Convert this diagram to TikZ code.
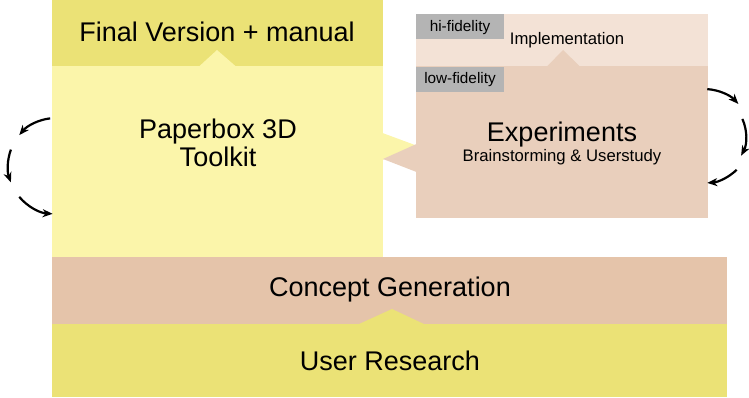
\documentclass[tikz,border=0pt]{standalone}
\usepackage{fontspec}
\setmainfont{Liberation Sans}
\usetikzlibrary{arrows.meta}
\definecolor{dyel}{HTML}{EBE276}
\definecolor{lyel}{HTML}{FBF5AA}
\definecolor{csal}{HTML}{E5C4AA}
\definecolor{esal}{HTML}{E9CFBC}
\definecolor{isal}{HTML}{F3E2D6}
\definecolor{tagg}{HTML}{B4B4B4}
\begin{document}
\begin{tikzpicture}[x=1pt,y=-1pt,
  box/.style={rectangle, draw=none, inner sep=0pt, outer sep=0pt, anchor=north west},
  big/.style={font=\fontsize{27}{30}\selectfont, inner sep=0pt, anchor=base},
  mid/.style={font=\fontsize{16.7}{19}\selectfont, inner sep=0pt, anchor=base},
  tagbox/.style={rectangle, fill=tagg, inner sep=0pt, outer sep=0pt, minimum width=88pt, minimum height=25pt, anchor=north west},
  tagtext/.style={font=\fontsize{15.3}{17}\selectfont, inner sep=0pt, anchor=base},
  cyc/.style={line width=2.2pt, -{Stealth[length=10pt,width=8pt,inset=3pt]}}]
\useasboundingbox (0,0) rectangle (749,398);
% top-left column
\node[box, fill=dyel, minimum width=331pt, minimum height=66pt] (final) at (52,0) {};
\node[box, fill=lyel, minimum width=331pt, minimum height=192pt] (paper) at (52,66) {};
\fill[lyel] (199,66.5) -- (217,50) -- (236,66.5) -- cycle;
\node[big] (finalt) at (217,41.7) {Final Version + manual};
\node[big] (papert1) at (218,139) {Paperbox 3D};
\node[big] (papert2) at (218,167) {Toolkit};
% right column
\node[box, fill=isal, minimum width=292pt, minimum height=52pt] (impl) at (416,14) {};
\node[box, fill=esal, minimum width=292pt, minimum height=152pt] (exp) at (416,66) {};
\fill[esal] (547,66.5) -- (563,50) -- (580,66.5) -- cycle;
\node[mid] (implt) at (567,45) {Implementation};
\node[tagbox] (hi) at (416,14) {};
\node[tagtext] (hit) at (460,31.7) {hi-fidelity};
\node[tagbox] (low) at (416,67) {};
\node[tagtext] (lowt) at (460,83.3) {low-fidelity};
\node[big] (expt) at (562,142) {Experiments};
\node[mid] (expt2) at (562,162) {Brainstorming \& Userstudy};
% pointers between columns
\fill[lyel] (382.5,133) -- (415,145) -- (382.5,160) -- cycle;
\fill[esal] (416.5,144) -- (383,159) -- (416.5,172) -- cycle;
% bottom bars
\node[box, fill=csal, minimum width=675pt, minimum height=67pt] (concept) at (52,257) {};
\node[box, fill=dyel, minimum width=675pt, minimum height=73pt] (user) at (52,324) {};
\fill[dyel] (358,324.5) -- (392,309) -- (425,324.5) -- cycle;
\node[big] (conceptt) at (390,296.5) {Concept Generation};
\node[big] (usert) at (390,370) {User Research};
% cycle arrows
\coordinate (lc) at (56,166);
\coordinate (rc) at (704,136);
\draw[cyc] ([shift={(-97:48)}]lc) arc[start angle=-97, end angle=-140, radius=48];
\draw[cyc] ([shift={(-160:48)}]lc) arc[start angle=-160, end angle=-200, radius=48];
\draw[cyc] ([shift={(-220:48)}]lc) arc[start angle=-220, end angle=-266, radius=48];
\draw[cyc] ([shift={(-86:47)}]rc) arc[start angle=-86, end angle=-43, radius=47];
\draw[cyc] ([shift={(-24:42)}]rc) arc[start angle=-24, end angle=28, radius=42];
\draw[cyc] ([shift={(46:47)}]rc) arc[start angle=46, end angle=86, radius=47];
\end{tikzpicture}
\end{document}
